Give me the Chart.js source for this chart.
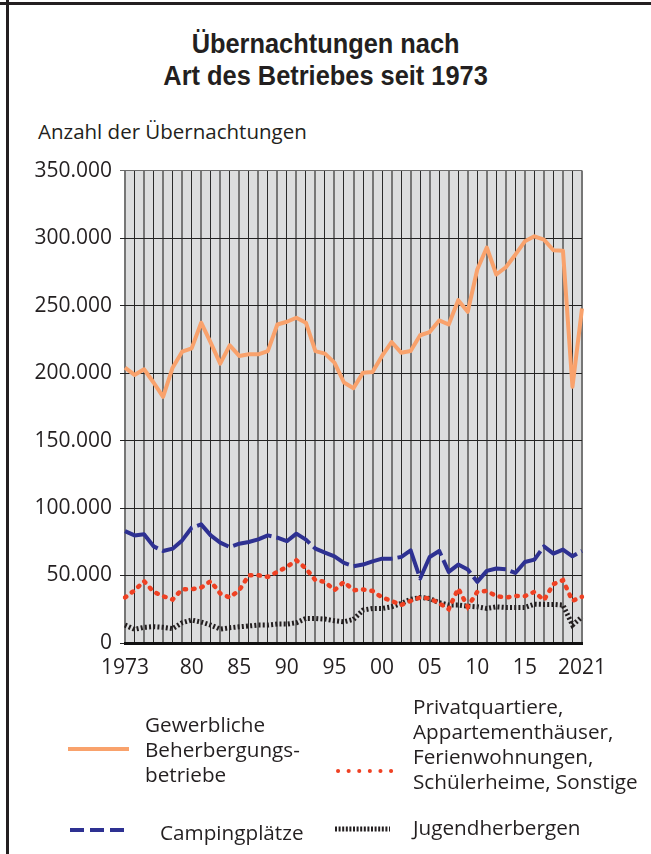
<!DOCTYPE html>
<html lang="de">
<head>
<meta charset="utf-8">
<script src="https://cdn.jsdelivr.net/npm/chart.js@4"></script>
<style>
  html, body { margin: 0; padding: 0; background: #fff; }
  body { width: 651px; height: 854px; position: relative; overflow: hidden;
         font-family: "Open Sans", "Noto Sans", sans-serif; color: #231f20; }
  .frame-top { position: absolute; left: 0; top: 2px; width: 651px; height: 3px; background: #231f20; }
  .frame-left { position: absolute; left: 6px; top: 0; width: 3px; height: 854px; background: #231f20; }
  .title { position: absolute; left: 0; width: 651px; top: 28px; text-align: center;
           font-family: "Liberation Sans", Arial, sans-serif;
           font-weight: bold; font-size: 27px; line-height: 32px;
           transform: scaleX(0.94); transform-origin: 327px 0; }
  .ytitle { position: absolute; left: 38px; top: 117px; font-size: 20.5px; }
  #wrap { position: absolute; left: 0; top: 150px; width: 651px; height: 540px; }
  .leg { position: absolute; font-size: 20.7px; line-height: 25px; }
</style>
</head>
<body>
<div class="frame-top"></div>
<div class="frame-left"></div>
<div class="title">Übernachtungen nach<br>Art des Betriebes seit 1973</div>
<div class="ytitle">Anzahl der Übernachtungen</div>
<div id="wrap"><canvas id="chart" width="651" height="540"></canvas></div>

<svg style="position:absolute;left:0;top:0" width="651" height="854">
  <line x1="68" y1="749" x2="129" y2="749" stroke="#f9a26c" stroke-width="4"/>
  <line x1="338" y1="771" x2="392" y2="771" stroke="#ef4123" stroke-width="4" stroke-linecap="round" stroke-dasharray="0.1 10.5"/>
  <line x1="70" y1="830" x2="128" y2="830" stroke="#2e3192" stroke-width="4" stroke-dasharray="14 6"/>
  <line x1="335" y1="829" x2="390" y2="829" stroke="#231f20" stroke-width="5" stroke-dasharray="2 1.6"/>
</svg>
<div class="leg" style="left:145px;top:712px">Gewerbliche<br>Beherbergungs-<br>betriebe</div>
<div class="leg" style="left:413px;top:694px">Privatquartiere,<br>Appartementhäuser,<br>Ferienwohnungen,<br>Schülerheime, Sonstige</div>
<div class="leg" style="left:160px;top:820px">Campingplätze</div>
<div class="leg" style="left:413px;top:815px">Jugendherbergen</div>

<script>
const years = [1973, 1974, 1975, 1976, 1977, 1978, 1979, 1980, 1981, 1982,
  1983, 1984, 1985, 1986, 1987, 1988, 1989, 1990, 1991, 1992,
  1993, 1994, 1995, 1996, 1997, 1998, 1999, 2000, 2001, 2002,
  2003, 2004, 2005, 2006, 2007, 2008, 2009, 2010, 2011, 2012,
  2013, 2014, 2015, 2016, 2017, 2018, 2019, 2020, 2021];

// tick labels shown on the x axis
const tickYears = [1973, 1980, 1985, 1990, 1995, 2000, 2005, 2010, 2015, 2021];
const tickTexts = ['1973', '80', '85', '90', '95', '00', '05', '10', '15', '2021'];

const gewerblich = [204000, 198600, 202800, 193000, 182400, 204000, 215800, 218300, 237300, 222500,
  207000, 220500, 212700, 213900, 213900, 216300, 236000, 238000, 241000, 237300,
  216300, 214400, 207700, 193000, 188800, 200300, 200800, 212700, 223000, 215100,
  216300, 228000, 230400, 239000, 236000, 254000, 245400, 276700, 293000, 273000,
  278400, 287700, 297600, 301300, 298800, 291000, 290700, 189800, 247900];

const privat = [33700, 39000, 45800, 37900, 34700, 32200, 39900, 39900, 41100, 45800,
  36700, 33700, 39100, 50200, 50200, 49000, 52700, 56400, 61300, 55200,
  46500, 45300, 39100, 45300, 39100, 39600, 38600, 33700, 31200, 28100,
  31200, 33700, 33000, 29500, 25100, 40400, 26800, 37900, 38600, 34700,
  33700, 34900, 34700, 37900, 31700, 43600, 46500, 31200, 34200];

const camping = [82900, 79700, 80500, 71600, 68200, 69900, 76000, 85400, 87900, 79700,
  74400, 71100, 73600, 74800, 76800, 79700, 78000, 75400, 81000, 76600,
  69900, 67000, 64200, 59300, 56900, 58100, 60500, 62500, 62500, 63700,
  68700, 47800, 63700, 68200, 52700, 58100, 54400, 45300, 53400, 55200,
  54600, 51900, 60000, 61800, 71600, 66200, 69200, 64200, 68200];

const jugend = [13300, 10100, 11600, 12100, 11600, 10600, 15000, 17000, 15500, 13300,
  10300, 11300, 12000, 12600, 13300, 13300, 14000, 14000, 15000, 18200,
  18200, 17700, 16500, 15700, 17500, 24400, 25600, 25600, 26800, 29300,
  32300, 33700, 33000, 29800, 28100, 28100, 27300, 26800, 25600, 26800,
  26300, 26300, 26300, 28800, 28600, 28600, 28100, 13300, 19400];

const textColor = '#231f20';

const plotBackground = {
    id: 'plotBackground',
    beforeDraw(chart) {
        const {ctx, chartArea: a} = chart;
        ctx.save();
        ctx.fillStyle = '#dcddde';
        ctx.fillRect(a.left, a.top, a.right - a.left, a.bottom - a.top);
        ctx.restore();
    }
};

new Chart(document.getElementById('chart'), {
    type: 'line',
    data: {
        labels: years,
        datasets: [{
            label: 'Gewerbliche Beherbergungsbetriebe',
            data: gewerblich,
            borderColor: '#f9a26c',
            borderWidth: 4,
            borderJoinStyle: 'round'
        }, {
            label: 'Privatquartiere, Appartementhäuser, Ferienwohnungen, Schülerheime, Sonstige',
            data: privat,
            borderColor: '#ef4123',
            borderWidth: 4.5,
            borderDash: [1.5, 7],
            borderCapStyle: 'round'
        }, {
            label: 'Campingplätze',
            data: camping,
            borderColor: '#2e3192',
            borderWidth: 4,
            borderDash: [40, 5],
            borderJoinStyle: 'round'
        }, {
            label: 'Jugendherbergen',
            data: jugend,
            borderColor: '#231f20',
            borderWidth: 5,
            borderDash: [2, 2.2]
        }]
    },
    options: {
        responsive: false,
        animation: false,
        layout: {padding: {top: 19, right: 69, bottom: 0, left: 0}},
        elements: {point: {radius: 0}, line: {tension: 0}},
        plugins: {legend: {display: false}, tooltip: {enabled: false}, title: {display: false}},
        scales: {
            x: {
                type: 'category',
                afterFit: (scale) => { scale.height = 47; },
                grid: {
                    drawTicks: false,
                    color: (c) => c.index % 2 ? '#2a2a2a' : '#767676',
                    lineWidth: (c) => c.index % 2 ? 1 : 2
                },
                border: {display: true, color: '#111', width: 3},
                ticks: {
                    autoSkip: false,
                    maxRotation: 0,
                    padding: 12,
                    color: textColor,
                    font: {family: '"Open Sans", sans-serif', size: 21},
                    callback: function (value, index) {
                        const pos = tickYears.indexOf(years[index]);
                        return pos >= 0 ? tickTexts[pos] : '';
                    }
                }
            },
            y: {
                min: 0,
                max: 350000,
                afterFit: (scale) => { scale.width = 125; },
                border: {display: false},
                grid: {
                    tickLength: 5,
                    color: (c) => c.tick && c.tick.value === 350000 ? '#6a6a6a' : '#222',
                    lineWidth: 1
                },
                ticks: {
                    stepSize: 50000,
                    padding: 8,
                    color: textColor,
                    font: {family: '"Open Sans", sans-serif', size: 21},
                    callback: (v) => v === 0 ? '0' : (v / 1000) + '.000'
                }
            }
        }
    },
    plugins: [plotBackground]
});
</script>
</body>
</html>
